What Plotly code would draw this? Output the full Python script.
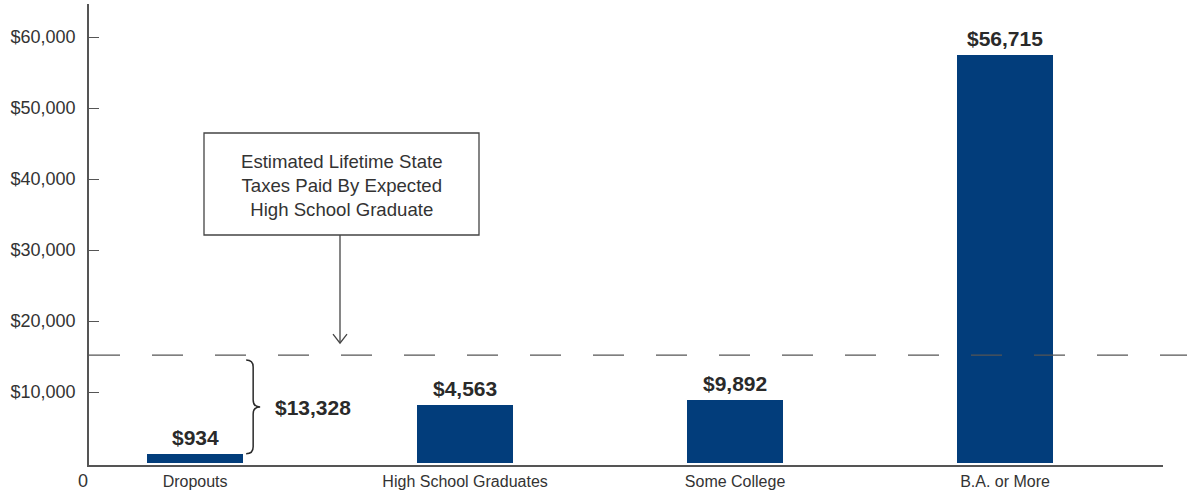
import plotly.graph_objects as go

# ---- data ----
categories = ["Dropouts", "High School Graduates", "Some College", "B.A. or More"]
bar_heights = [1300, 8200, 8900, 57500]          # heights as drawn in the picture
bar_labels = ["$934", "$4,563", "$9,892", "$56,715"]
threshold = 15200                                 # dashed reference line
gap_label = "$13,328"
ytick_vals = [10000, 20000, 30000, 40000, 50000, 60000]
ytick_text = ["$10,000", "$20,000", "$30,000", "$40,000", "$50,000", "$60,000"]
box_text = "Estimated Lifetime State<br>Taxes Paid By Expected<br>High School Graduate"

# ---- layout constants ----
W, H = 1187, 492
ML, MR, MT, MB = 89, 24, 4, 27
PW, PH = W - ML - MR, H - MT - MB
XR = [-0.393, 3.585]
YR = [-282, 64650]
BAR_COLOR = "#023d7b"
TXT = "#333333"
LINE = "#555555"
FONT = "Liberation Sans, Arial, sans-serif"
BAR_W = 0.356


def px2x(px):
    return XR[0] + (px - ML) / PW * (XR[1] - XR[0])


def py2y(py):
    return YR[0] + (MT + PH - py) / PH * (YR[1] - YR[0])


def x2px(x):
    return ML + (x - XR[0]) / (XR[1] - XR[0]) * PW


def y2py(y):
    return MT + PH - (y - YR[0]) / (YR[1] - YR[0]) * PH


fig = go.Figure()
fig.add_trace(go.Bar(
    x=list(range(len(categories))), y=bar_heights, width=BAR_W,
    marker=dict(color=BAR_COLOR, line=dict(width=0)),
    hoverinfo="skip", showlegend=False,
))

annotations = []
for i, (h, lab) in enumerate(zip(bar_heights, bar_labels)):
    annotations.append(dict(
        x=i, y=h, xref="x", yref="y", text=f"<b>{lab}</b>", showarrow=False,
        yanchor="middle", yshift=16,
        font=dict(family=FONT, size=21, color="#2a2a2a"),
    ))

shapes = []
# dashed threshold line across the whole width
thr_paper = (threshold - YR[0]) / (YR[1] - YR[0])
shapes.append(dict(
    type="line", xref="paper", yref="paper", x0=0, x1=(W - ML) / PW,
    y0=thr_paper, y1=thr_paper,
    line=dict(color=LINE, width=1.4, dash="31px,32px"),
))

# curly brace between dropouts bar top and threshold
bx_edge = x2px(0 + BAR_W / 2)
top_py = y2py(threshold) + 5
bot_py = y2py(bar_heights[0])
mid_py = (top_py + bot_py) / 2
x0p, x1p, x2p = bx_edge + 3, bx_edge + 10, bx_edge + 17
pts = [
    ("M", [(x0p, top_py)]),
    ("Q", [(x1p, top_py), (x1p, top_py + 7)]),
    ("L", [(x1p, mid_py - 7)]),
    ("Q", [(x1p, mid_py), (x2p, mid_py)]),
    ("Q", [(x1p, mid_py), (x1p, mid_py + 7)]),
    ("L", [(x1p, bot_py - 7)]),
    ("Q", [(x1p, bot_py), (x0p, bot_py)]),
]
path = " ".join(
    cmd + " " + " ".join(f"{px2x(a):.5f},{py2y(b):.2f}" for a, b in coords)
    for cmd, coords in pts
)
shapes.append(dict(type="path", xref="x", yref="y", path=path,
                   line=dict(color="#2a2a2a", width=1.5)))
annotations.append(dict(
    x=px2x(x2p + 13), y=py2y(mid_py + 1), xref="x", yref="y",
    text=f"<b>{gap_label}</b>", showarrow=False, xanchor="left", yanchor="middle",
    font=dict(family=FONT, size=21, color="#2a2a2a"),
))

# callout box with arrow
bl, br, bt, bb = 204, 479, 133, 235
shapes.append(dict(type="rect", xref="x", yref="y",
                   x0=px2x(bl), x1=px2x(br), y0=py2y(bb), y1=py2y(bt),
                   line=dict(color="#444444", width=1.3), fillcolor="white"))
annotations.append(dict(
    x=px2x((bl + br) / 2), y=py2y((bt + bb) / 2 + 1), xref="x", yref="y",
    text=box_text, showarrow=False, align="center",
    font=dict(family=FONT, size=18.6, color=TXT),
))
ax_px = (bl + br) / 2 - 1.5
tip_py = y2py(threshold) - 12
shapes.append(dict(type="line", xref="x", yref="y",
                   x0=px2x(ax_px), x1=px2x(ax_px), y0=py2y(bb), y1=py2y(tip_py),
                   line=dict(color="#444444", width=1.3)))
shapes.append(dict(
    type="path", xref="x", yref="y",
    path=(f"M {px2x(ax_px - 7):.5f},{py2y(tip_py - 9):.2f} "
          f"L {px2x(ax_px):.5f},{py2y(tip_py):.2f} "
          f"L {px2x(ax_px + 7):.5f},{py2y(tip_py - 9):.2f}"),
    line=dict(color="#444444", width=1.3),
))

# "0" at origin
annotations.append(dict(
    x=0, y=0, xref="paper", yref="paper", text="0", showarrow=False,
    xanchor="center", yanchor="top", xshift=-6, yshift=-4,
    font=dict(family=FONT, size=18, color=TXT),
))

fig.update_layout(
    width=W, height=H,
    margin=dict(l=ML, r=MR, t=MT, b=MB, pad=0, autoexpand=False),
    paper_bgcolor="white", plot_bgcolor="white",
    bargap=0, showlegend=False,
    font=dict(family=FONT, color=TXT),
    xaxis=dict(
        range=XR, tickvals=list(range(len(categories))), ticktext=categories,
        showline=True, linecolor=LINE, linewidth=1.5, showgrid=False,
        zeroline=False, ticks="", tickfont=dict(size=16, color=TXT),
        ticklabelstandoff=1, fixedrange=True, automargin=False,
    ),
    yaxis=dict(
        range=YR, tickvals=ytick_vals, ticktext=ytick_text,
        showline=True, linecolor=LINE, linewidth=1.5, showgrid=False,
        zeroline=False, ticks="inside", ticklen=10, tickwidth=1.3,
        tickcolor=LINE, tickfont=dict(size=18, color=TXT),
        ticklabelstandoff=8, fixedrange=True, automargin=False,
    ),
    shapes=shapes, annotations=annotations,
)

fig.write_html("out.html", config={"displayModeBar": False})
